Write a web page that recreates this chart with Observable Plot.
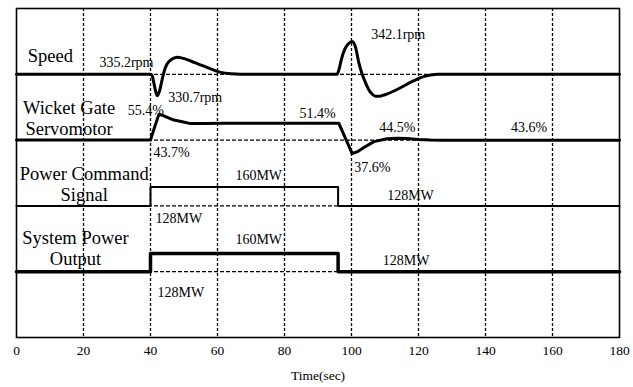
<!DOCTYPE html>
<html>
<head>
<meta charset="utf-8">
<script src="https://cdn.jsdelivr.net/npm/d3@7"></script>
<script src="https://cdn.jsdelivr.net/npm/@observablehq/plot@0.6"></script>
<style>
  html, body { margin: 0; padding: 0; background: #fff; }
  #chart svg { display: block; }
</style>
</head>
<body>
<div id="chart"></div>
<script>
// ---------- data ----------
const speedTime = [0, 40, 40.5, 41, 41.5, 42, 42.7, 43.5, 44.3, 45, 46, 47, 48, 49.5, 52, 54.5, 57, 61, 64, 67,
                   95.7, 96.3, 97, 98, 99, 100.2, 101.2, 102.2, 103.2, 104.2, 105.2, 106.2, 107.2, 108.5, 110, 113.6, 116, 118.5, 120.6, 123.6, 126, 180];
const speedRpm  = [335.2, 335.2, 334.9, 333.4, 331.7, 330.7, 331.7, 334.2, 336.3, 337.4, 338.2, 338.6, 338.8, 338.6, 338.0, 337.3, 336.6, 335.6, 335.3, 335.2,
                   335.2, 336.3, 338.4, 340.5, 341.6, 342.1, 340.9, 337.6, 335.2, 333.4, 331.9, 331.0, 330.6, 330.6, 330.9, 332.0, 332.9, 333.8, 334.5, 335.05, 335.2, 335.2];

const gateTime = [0, 40, 41.2, 42.5, 43.5, 45, 47, 49.5, 52, 56, 62, 96.2, 100.2, 102, 103.7, 106.7, 110.6, 113.5, 116.6, 120, 123.6, 127, 180];
const gatePct  = [43.7, 43.7, 49.5, 55.4, 55.0, 54.0, 52.8, 52.0, 51.2, 51.2, 51.4, 51.4, 37.6, 38.6, 40.3, 43.0, 44.3, 44.5, 44.4, 44.0, 43.7, 43.6, 43.6];

const powerTime = [0, 40, 40, 96, 96, 180];
const commandMW = [128, 128, 160, 160, 128, 128];
const outputMW  = [128, 128, 160, 160, 128, 128];

const xTicks = [0, 20, 40, 60, 80, 100, 120, 140, 160, 180];

const rowNames  = ["speed", "gate", "command", "output"];
const rowTitles = ["Speed", "Wicket Gate\nServomotor", "Power Command\nSignal", "System Power\nOutput"];
const rowTitleTime = [10.1, 15.7, 20.2, 17.6];

const annText  = ["335.2rpm", "330.7rpm", "342.1rpm", "55.4%", "43.7%", "51.4%", "37.6%", "44.5%", "43.6%",
                  "160MW", "128MW", "128MW", "160MW", "128MW", "128MW"];
const annTrace = ["speed", "speed", "speed", "gate", "gate", "gate", "gate", "gate", "gate",
                  "command", "command", "command", "output", "output", "output"];
const annTime  = [40, 42, 100.2, 42.5, 40, 96.2, 100.2, 113.7, 153, 72.3, 40, 117.6, 72.3, 116.3, 40];
const annValue = [335.2, 330.7, 342.1, 55.4, 43.7, 51.4, 37.6, 44.5, 43.6, 160, 128, 128, 160, 128, 128];

// ---------- layout (not data) ----------
const W = 633, H = 387;
const M = {top: 8, right: 14, bottom: 50, left: 16};
const BAND = (H - M.top - M.bottom) / 5;           // px per row band
const rowLayout = {                                  // baseline row & px per unit
  speed:   {base: 4, ref: 335.2, px: 4.75},
  gate:    {base: 3, ref: 43.7,  px: 2.2},
  command: {base: 2, ref: 128,   px: 0.59},
  output:  {base: 1, ref: 128,   px: 0.57}
};
const toY = (trace, v) => rowLayout[trace].base + (v - rowLayout[trace].ref) * rowLayout[trace].px / BAND;
const series = (trace, ts, vs) => ts.map((t, i) => ({t, y: toY(trace, vs[i])}));

const titleDy = [-19, -22, -22.5, -23.5];
const annStyle = [ // dx, dy, anchor
  [3, -12, "end"], [11, 1.5, "start"], [19, -7, "start"], [5, -4, "end"], [3, 12, "start"],
  [-3, -10, "end"], [2, 14, "start"], [0, -11, "middle"], [0, -13, "middle"],
  [0, -12, "middle"], [5, 13, "start"], [0, -10, "middle"], [0, -14, "middle"], [0, -11, "middle"], [7, 21, "start"]
];

const FONT = "'Liberation Serif', 'Times New Roman', serif";

const marks = [
  Plot.ruleX(xTicks.slice(1, -1), {stroke: "#000", strokeWidth: 1.3, strokeDasharray: "3,2"}),
  Plot.ruleY([1, 2, 3, 4], {stroke: "#000", strokeWidth: 1.3, strokeDasharray: "4,2"}),
  Plot.line(series("speed", speedTime, speedRpm), {x: "t", y: "y", stroke: "#000", strokeWidth: 3, curve: "monotone-x"}),
  Plot.line(series("gate", gateTime, gatePct), {x: "t", y: "y", stroke: "#000", strokeWidth: 3, curve: "linear", strokeLinejoin: "round"}),
  Plot.line(series("command", powerTime, commandMW), {x: "t", y: "y", stroke: "#000", strokeWidth: 2}),
  Plot.line(series("output", powerTime, outputMW), {x: "t", y: "y", stroke: "#000", strokeWidth: 3.5}),
  Plot.frame({stroke: "#000", strokeWidth: 1.6}),
  ...rowNames.map((r, i) => Plot.text([rowTitles[i]], {
    x: () => rowTitleTime[i], y: () => rowLayout[r].base, text: d => d,
    dy: titleDy[i], fontSize: 18.5, lineHeight: 1.14, textAnchor: "middle", fill: "#000"
  })),
  ...annText.map((s, i) => Plot.text([s], {
    x: () => annTime[i], y: () => toY(annTrace[i], annValue[i]), text: d => d,
    dx: annStyle[i][0], dy: annStyle[i][1], textAnchor: annStyle[i][2], fontSize: 14, fill: "#000"
  })),
  Plot.axisX(xTicks, {tickSize: 0, tickPadding: 8, fontSize: 13.5, label: "Time(sec)", labelAnchor: "center",
                      labelArrow: "none", labelOffset: 42, fill: "#000"})
];

const chart = Plot.plot({
  width: W, height: H,
  marginTop: M.top, marginRight: M.right, marginBottom: M.bottom, marginLeft: M.left,
  x: {domain: [0, 180]},
  y: {domain: [0, 5], axis: null},
  style: {fontFamily: FONT, fontSize: "13.5px", color: "#000", background: "#fff"},
  marks
});
document.getElementById("chart").appendChild(chart);
</script>
</body>
</html>
